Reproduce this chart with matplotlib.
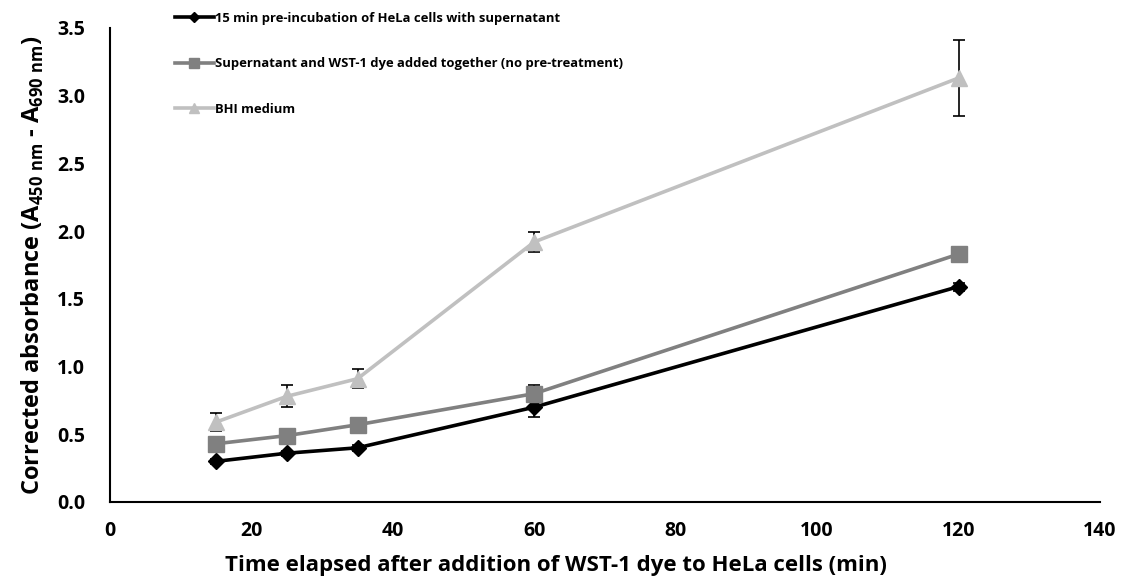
import matplotlib.pyplot as plt

# Absorbance over time after WST-1 addition
time_min = [15, 25, 35, 60, 120]

preinc = [0.30, 0.36, 0.40, 0.70, 1.59]
preinc_err = [0.02, 0.02, 0.02, 0.07, 0.03]

together = [0.43, 0.49, 0.57, 0.80, 1.83]
together_err = [0.02, 0.02, 0.02, 0.06, 0.02]

bhi = [0.59, 0.78, 0.91, 1.92, 3.13]
bhi_err = [0.065, 0.08, 0.07, 0.075, 0.28]

labels = [
    "15 min pre-incubation of HeLa cells with supernatant",
    "Supernatant and WST-1 dye added together (no pre-treatment)",
    "BHI medium",
]

plt.rcParams["font.family"] = ["Open Sans", "DejaVu Sans"]
plt.rcParams["font.weight"] = "bold"
plt.rcParams["mathtext.fontset"] = "custom"
plt.rcParams["mathtext.rm"] = "Open Sans"

fig = plt.figure(figsize=(11.23, 5.81), dpi=100)
ax = fig.add_axes([0.098, 0.136, 0.8815, 0.816])

series = [
    (preinc, preinc_err, "black", "D", 8),
    (together, together_err, "#808080", "s", 11),
    (bhi, bhi_err, "#C0C0C0", "^", 12),
]
for (vals, errs, col, mk, ms), lab in zip(series, labels):
    ax.errorbar(time_min, vals, yerr=errs, color=col, marker=mk, markersize=ms,
                linewidth=2.6, ecolor="black", elinewidth=1.2, capsize=4,
                capthick=1.2, label=lab, zorder=3)

ax.set_xlim(0, 140)
ax.set_ylim(0, 3.5)
ax.set_xticks(range(0, 141, 20))
ax.set_yticks([0, 0.5, 1.0, 1.5, 2.0, 2.5, 3.0, 3.5])
ax.set_yticklabels([f"{v:.1f}" for v in ax.get_yticks()])
ax.tick_params(axis="y", length=0, labelsize=14, pad=18)
ax.tick_params(axis="x", length=0, labelsize=14, pad=14)
for lbl in ax.get_xticklabels() + ax.get_yticklabels():
    lbl.set_fontweight("bold")

ax.spines["top"].set_visible(False)
ax.spines["right"].set_visible(False)
ax.spines["left"].set_linewidth(1.5)
ax.spines["bottom"].set_linewidth(1.5)

ax.set_xlabel("Time elapsed after addition of WST-1 dye to HeLa cells (min)",
              fontsize=16, fontweight="bold")
ax.xaxis.set_label_coords(0.45, -0.112)
ax.set_ylabel(r"Corrected absorbance (A$_{\mathregular{450\ nm}}$ - A$_{\mathregular{690\ nm}}$)",
              fontsize=17, fontweight="bold", labelpad=8)

# legend entries without the error bar glyphs
handles, labs = ax.get_legend_handles_labels()
handles = [h[0] for h in handles]
leg = ax.legend(handles, labs, loc="upper left", bbox_to_anchor=(0.145, 1.0),
                bbox_transform=fig.transFigure, frameon=False, fontsize=9.4,
                handlelength=3.0, handletextpad=0.1, labelspacing=2.5,
                markerscale=0.6)
for t in leg.get_texts():
    t.set_fontweight("bold")

fig.savefig("out.png", dpi=100)
